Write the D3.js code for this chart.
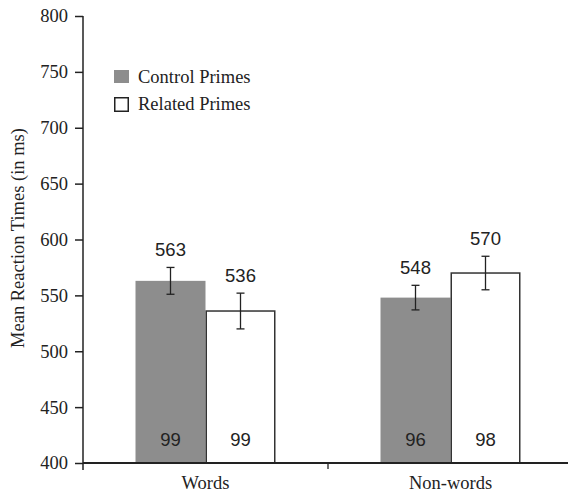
<!DOCTYPE html>
<html><head><meta charset="utf-8">
<script src="https://cdn.jsdelivr.net/npm/d3@7"></script>
<style>body{margin:0;background:#fff}</style>
</head><body>
<svg id="c" width="568" height="493"></svg>
<script>
const categories = ["Words", "Non-words"];
const series = ["Control Primes", "Related Primes"];
const means = [[563, 536], [548, 570]];
const errors = [[12, 16], [11, 15]];
const counts = [[99, 99], [96, 98]];
const yTicks = [400, 450, 500, 550, 600, 650, 700, 750, 800];

const svg = d3.select("#c");
const serif = "'Liberation Serif','Times New Roman',serif";
const sans = "'Liberation Sans',Arial,sans-serif";
const ink = "#222";
const fills = ["#8d8d8d", "#ffffff"];
const fs = 18.5;

const y = d3.scaleLinear().domain([400, 800]).range([463, 16]);
const x = d3.scaleBand().domain(categories).range([83, 573]).padding(0);
const barW = 70;

// y axis
const yAxis = d3.axisLeft(y).tickValues(yTicks).tickSize(8).tickPadding(7);
const gy = svg.append("g").attr("transform", "translate(83,0)").call(yAxis);
gy.select(".domain").remove();
gy.selectAll(".tick line").attr("stroke", ink).attr("stroke-width", 1.5);
gy.selectAll(".tick text").attr("font-family", serif).attr("font-size", fs).attr("fill", ink);
svg.append("line").attr("x1", 83).attr("x2", 83).attr("y1", y(800)).attr("y2", 470)
  .attr("stroke", ink).attr("stroke-width", 1.5);

// bars
categories.forEach((c, i) => {
  const cx = x(c) + x.bandwidth() / 2;
  series.forEach((s, j) => {
    const x0 = cx - barW + j * barW;
    const v = means[i][j];
    svg.append("rect").attr("x", x0 + (j ? 0.75 : 0)).attr("y", y(v))
      .attr("width", barW - (j ? 1.5 : 0)).attr("height", y(400) - y(v))
      .attr("fill", fills[j]).attr("stroke", j ? "#333" : "none").attr("stroke-width", 1.5);
    const ex = x0 + barW / 2;
    const e = errors[i][j];
    const g = svg.append("g").attr("stroke", ink).attr("stroke-width", 1.3);
    g.append("line").attr("x1", ex).attr("x2", ex).attr("y1", y(v + e)).attr("y2", y(v - e));
    g.append("line").attr("x1", ex - 4).attr("x2", ex + 4).attr("y1", y(v + e)).attr("y2", y(v + e));
    g.append("line").attr("x1", ex - 4).attr("x2", ex + 4).attr("y1", y(v - e)).attr("y2", y(v - e));
    svg.append("text").attr("x", ex).attr("y", y(v + e) - 11).attr("text-anchor", "middle")
      .attr("font-family", sans).attr("font-size", fs).attr("fill", ink).text(v);
    svg.append("text").attr("x", ex).attr("y", 446).attr("text-anchor", "middle")
      .attr("font-family", sans).attr("font-size", fs).attr("fill", ink).text(counts[i][j]);
  });
});

// x axis
const xAxis = d3.axisBottom(x).tickSize(0).tickPadding(13);
const gx = svg.append("g").attr("transform", "translate(0,463)").call(xAxis);
gx.select(".domain").remove();
gx.selectAll(".tick text").attr("font-family", serif).attr("font-size", fs).attr("fill", ink);
svg.append("line").attr("x1", 83).attr("x2", 568).attr("y1", 463).attr("y2", 463)
  .attr("stroke", ink).attr("stroke-width", 2);
svg.append("line").attr("x1", x("Non-words")).attr("x2", x("Non-words")).attr("y1", 463).attr("y2", 469)
  .attr("stroke", ink).attr("stroke-width", 1.3);

// y label
svg.append("text").attr("transform", "translate(24,238) rotate(-90)").attr("text-anchor", "middle")
  .attr("font-family", serif).attr("font-size", fs).attr("fill", ink).text("Mean Reaction Times (in ms)");

// legend
series.forEach((s, j) => {
  const ly = 70 + j * 27;
  svg.append("rect").attr("x", j ? 114.75 : 114).attr("y", j ? ly + 0.75 : ly)
    .attr("width", j ? 13.5 : 15).attr("height", j ? 13.5 : 13)
    .attr("fill", fills[j]).attr("stroke", j ? "#222" : "none").attr("stroke-width", 1.5);
  svg.append("text").attr("x", 138).attr("y", ly + 12.5).attr("font-family", serif)
    .attr("font-size", fs).attr("fill", ink).text(s);
});
</script>
</body></html>
